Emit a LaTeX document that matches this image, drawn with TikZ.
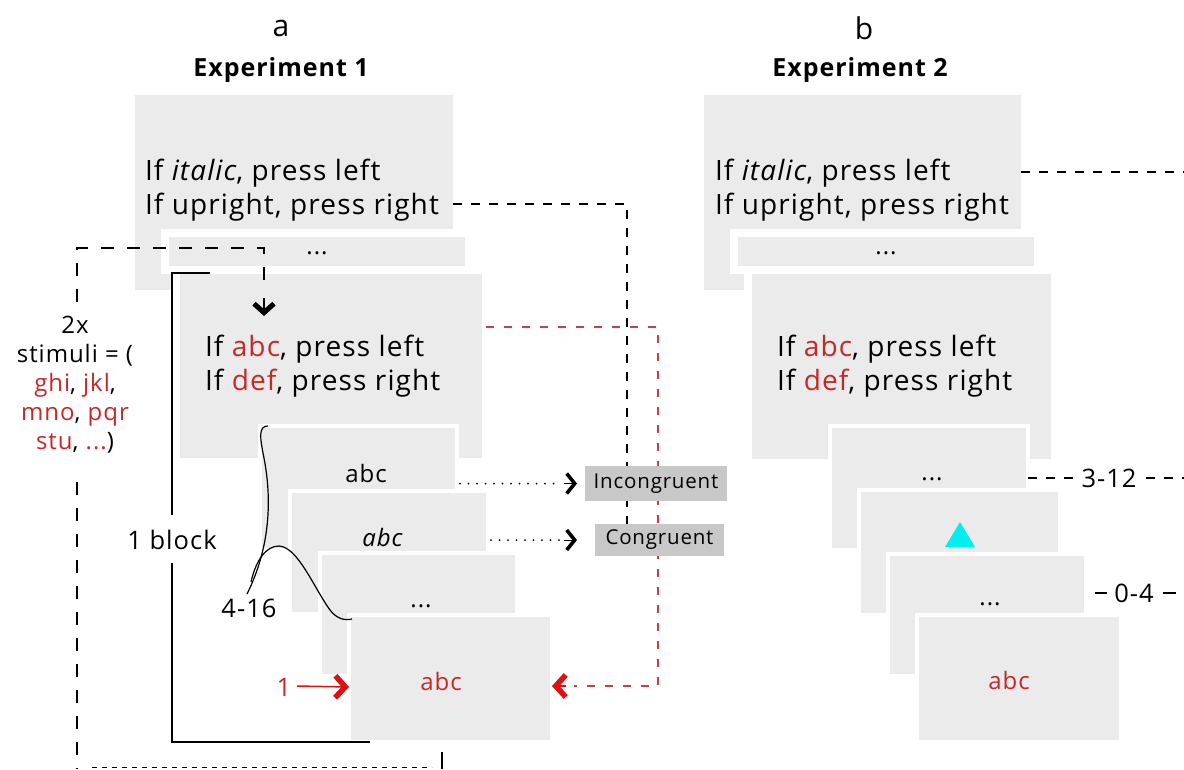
\documentclass[tikz,border=0pt]{standalone}
\usepackage{fontspec}
\setmainfont{Open Sans}[LetterSpace=4]
\usetikzlibrary{arrows.meta}
\definecolor{boxgray}{HTML}{EBEBEB}
\definecolor{lblgray}{HTML}{C8C8C8}
\definecolor{txtred}{HTML}{C62828}
\definecolor{arrred}{HTML}{E01010}
\definecolor{dashred}{HTML}{C84040}
\definecolor{trigcyan}{HTML}{00F0F0}
\newcommand\rd[1]{\textcolor{txtred}{#1}}
\begin{document}
\begin{tikzpicture}[x=1pt,y=-1pt,
  every node/.style={inner sep=0pt, outer sep=0pt},
  gbox/.style={fill=boxgray, anchor=north west},
  ibox/.style={gbox, draw=white, line width=8pt},
  sbox/.style={gbox, draw=white, line width=4pt},
  main/.style={font=\fontsize{28}{34}\selectfont, anchor=base west},
  stim/.style={font=\fontsize{24}{28}\selectfont},
  dots/.style={font=\fontsize{24}{28}\selectfont, anchor=base},
  small/.style={font=\fontsize{25.5}{28}\selectfont},
  lbl/.style={fill=lblgray, font=\fontsize{20.5}{22}\selectfont},
  kdash/.style={black, line width=1.3pt, dash pattern=on 9pt off 9pt},
  ldash/.style={black, line width=1.5pt, dash pattern=on 13pt off 13pt},
  rdash/.style={dashred, line width=1.5pt, dash pattern=on 8pt off 10pt},
  dotline/.style={black, line width=2pt, line cap=round, dash pattern=on 0pt off 8.5pt},
  chev/.style={-{Straight Barb[length=8pt,width=20pt,line width=3.6pt]}},
  bigchev/.style={-{Straight Barb[length=10pt,width=22pt,line width=5.5pt]}},
]
\useasboundingbox (0,0) rectangle (1184,769);

% ---------- headings ----------
\node[font=\fontsize{30}{32}\selectfont] (la) at (281,28) {a};
\node[font=\fontsize{25}{28}\selectfont\bfseries] (e1) at (281,70) {Experiment 1};
\node[font=\fontsize{30}{32}\selectfont] (lb) at (864,28) {b};
\node[font=\fontsize{25}{28}\selectfont\bfseries] (e2) at (860,70) {Experiment 2};

% ---------- experiment 1: instruction screens ----------
\node[gbox, minimum width=318pt, minimum height=195pt] (A1) at (135,95) {};
\node[main] (A1a) at (145,180) {If \textit{italic}, press left};
\node[main] (A1b) at (145,214) {If upright, press right};
\node[ibox, minimum width=304pt, minimum height=37pt] (A2) at (165,233) {};
\node[dots] (A2t) at (317,254) {...};
\node[ibox, minimum width=310pt, minimum height=192pt] (A3) at (176,270) {};
\node[main] (A3a) at (205,356) {If \rd{abc}, press left};
\node[main] (A3b) at (205,390) {If \rd{def}, press right};

% ---------- experiment 1: trial screens ----------
\node[sbox, minimum width=197pt, minimum height=124pt] (S1) at (260,426) {};
\node[stim] (S1t) at (366,473) {abc};
\node[sbox, minimum width=198pt, minimum height=123pt] (S2) at (290,491) {};
\node[stim] (S2t) at (383,537) {\textit{abc}};
\node[sbox, minimum width=197pt, minimum height=123pt] (S3) at (320,553) {};
\node[dots] (S3t) at (421,607) {...};
\node[sbox, minimum width=203pt, minimum height=127pt] (S4) at (349,615) {};
\node[stim, text=txtred] (S4t) at (441,681) {abc};

% ---------- experiment 2: instruction screens ----------
\node[gbox, minimum width=317pt, minimum height=195pt] (B1) at (704,95) {};
\node[main] (B1a) at (715,180) {If \textit{italic}, press left};
\node[main] (B1b) at (715,214) {If upright, press right};
\node[ibox, minimum width=304pt, minimum height=37pt] (B2) at (734,233) {};
\node[dots] (B2t) at (886,254) {...};
\node[ibox, minimum width=307pt, minimum height=193pt] (B3) at (748,270) {};
\node[main] (B3a) at (777,356) {If \rd{abc}, press left};
\node[main] (B3b) at (777,390) {If \rd{def}, press right};

% ---------- experiment 2: trial screens ----------
\node[sbox, minimum width=198pt, minimum height=124pt] (T1) at (830,426) {};
\node[dots] (T1t) at (932,480) {...};
\node[sbox, minimum width=201pt, minimum height=125pt] (T2) at (859,490) {};
\fill[trigcyan] (945,547) -- (975,547) -- (960,522) -- cycle;
\node[sbox, minimum width=198pt, minimum height=122pt] (T3) at (888,554) {};
\node[dots] (T3t) at (990,605) {...};
\node[sbox, minimum width=204pt, minimum height=127pt] (T4) at (917,615) {};
\node[stim, text=txtred] (T4t) at (1009,680) {abc};

% ---------- experiment 1: rule links ----------
\coordinate (kTurn) at (627,204);
\draw[kdash] (A1.north east |- kTurn) -- (kTurn) -- (627,524);
\coordinate (rTurn) at (658,327);
\coordinate (rLow) at (658,686);
\draw[rdash] (A3.north east |- rTurn) -- (rTurn) -- (rLow) -- (574,686);
\draw[bigchev, line width=1.5pt, draw=arrred] (566,686) -- (S4.east |- rLow);

% ---------- experiment 1: condition labels ----------
\node[lbl, minimum width=142pt, minimum height=35pt] (inc) at (656,483.5) {Incongruent};
\node[lbl, minimum width=129pt, minimum height=32pt] (con) at (659.5,540) {Congruent};
\draw[dotline] (S1.east |- inc) ++(3,0) -- (560,483.5);
\draw[chev] (564,483.5) -- (577,483.5);
\draw[dotline] (S2.east |- con) ++(3,0) -- (560,540);
\draw[chev] (564,540) -- (577,540);

% ---------- experiment 1: repetition loop ----------
\node[font=\fontsize{24}{29}\selectfont, align=center] (stimlist) at (75,385)
  {2x\\stimuli = (\\\rd{ghi}, \rd{jkl},\\\rd{mno}, \rd{pqr}\\\rd{stu}, \rd{...})};
\coordinate (lTop) at (77,248);
\coordinate (lCorner) at (264,248);
\draw[ldash] (77,302) -- (lTop) -- (lCorner) -- (264,290);
\draw[black, line width=1.5pt, -{Straight Barb[length=9pt,width=20pt,line width=5pt]}] (264,298) -- (264,316);
\draw[ldash] (77,482) -- (77,769);
\draw[black, line width=1pt, dash pattern=on 5pt off 5pt] (92,767) -- (432,767);
\draw[black, line width=1.5pt] (442,752) -- (442,769);

% ---------- experiment 1: block bracket ----------
\node[small] (blk) at (172,540) {1 block};
\draw[black, line width=1.5pt] (210,273) -- (172,273) -- (172,515);
\draw[black, line width=1.5pt] (172,563) -- (172,742) -- (370,742);

% ---------- experiment 1: trial count brace ----------
\node[small] (cnt) at (249,608) {4-16};
\draw[black, line width=1.2pt] (268,426) .. controls (258,426) and (260,438) .. (264,458)
  .. controls (274,510) and (266,556) .. (247,594);
\draw[black, line width=1.2pt] (251,582) .. controls (256,560) and (266,546) .. (279,546)
  .. controls (298,547) and (314,588) .. (330,610) .. controls (336,618) and (344,621) .. (352,619);

% ---------- experiment 1: first trial marker ----------
\node[small, text=txtred] (one) at (284,687) {1};
\draw[arrred, line width=1.5pt, bigchev] (297,686) -- (S4.west |- one);

% ---------- experiment 2: timing labels ----------
\draw[kdash] (B1.north east |- 0,172) -- (1184,172);
\node[small] (t312) at (1109,478) {3-12};
\draw[kdash] (T1.east |- t312) -- (1074,478);
\draw[kdash] (1146,478) -- (1184,478);
\node[small] (t04) at (1134,593) {0-4};
\draw[black, line width=1.3pt] (1095,593) -- (1107,593);
\draw[black, line width=1.3pt] (1163,593) -- (1176,593);
\end{tikzpicture}
\end{document}
